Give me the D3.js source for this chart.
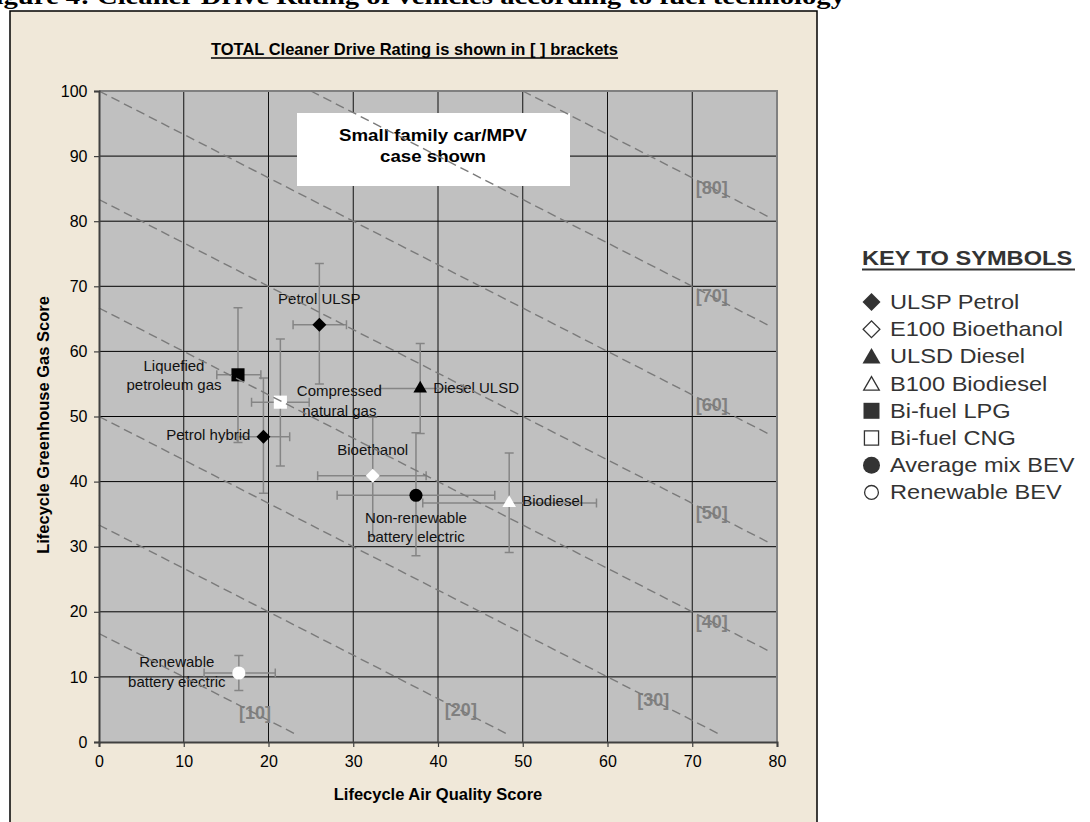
<!DOCTYPE html>
<html>
<head>
<meta charset="utf-8">
<script src="https://cdnjs.cloudflare.com/ajax/libs/d3/7.8.5/d3.min.js"></script>
<style>
  body { margin: 0; background: #fff; }
  svg { display: block; font-family: "Liberation Sans", Arial, sans-serif; }
</style>
</head>
<body>
<div id="chart"></div>
<script>
// Data
var fuels = ["Petrol ULSP", "Liquefied petroleum gas", "Compressed natural gas", "Petrol hybrid",
             "Diesel ULSD", "Bioethanol", "Non-renewable battery electric", "Biodiesel", "Renewable battery electric"];
var airQuality = [26.0, 16.4, 21.4, 19.4, 37.9, 32.3, 37.4, 48.4, 16.5];
var greenhouse = [64.1, 56.4, 52.2, 46.9, 54.3, 40.9, 37.9, 36.7, 10.6];
var airLow  = [22.9, 13.9, 18.0, 16.3, 33.2, 25.8, 28.1, 38.2, 12.4];
var airHigh = [29.2, 19.1, 24.8, 22.5, 43.0, 38.6, 46.7, 58.7, 20.8];
var ghgLow  = [55.0, 46.0, 42.4, 38.2, 47.4, 31.6, 28.6, 29.1, 7.9];
var ghgHigh = [73.5, 66.7, 61.9, 55.9, 61.2, 49.9, 47.5, 44.4, 13.3];

var keyNames = ["ULSP Petrol", "E100 Bioethanol", "ULSD Diesel", "B100 Biodiesel",
                "Bi-fuel LPG", "Bi-fuel CNG", "Average mix BEV", "Renewable BEV"];
var fuelKey = [0, 4, 5, 0, 2, 1, 6, 3, 7];

var ratings = [10, 20, 30, 40, 50, 60, 70, 80];
var ratingLabelX = [18.4, 42.7, 65.4, 72.3, 72.3, 72.3, 72.3, 72.3];

var xTicks = [0, 10, 20, 30, 40, 50, 60, 70, 80];
var yTicks = [0, 10, 20, 30, 40, 50, 60, 70, 80, 90, 100];

// shape + fill for each key
var keyStyle = [
  {shape: "diamond", filled: true}, {shape: "diamond", filled: false},
  {shape: "triangle", filled: true}, {shape: "triangle", filled: false},
  {shape: "square", filled: true}, {shape: "square", filled: false},
  {shape: "circle", filled: true}, {shape: "circle", filled: false}
];

// label layout around each point (pixel offsets)
var labelLayout = [
  {anchor: "middle", dx: 0,   dy: [-26]},
  {anchor: "middle", dx: -64, dy: [-9, 10]},
  {anchor: "middle", dx: 59,  dy: [-11, 9]},
  {anchor: "end",    dx: -13, dy: [-2]},
  {anchor: "start",  dx: 13,  dy: [-1]},
  {anchor: "middle", dx: 0,   dy: [-26]},
  {anchor: "middle", dx: 0,   dy: [23, 42]},
  {anchor: "start",  dx: 13,  dy: [-2]},
  {anchor: "middle", dx: -62, dy: [-11, 9]}
];
var labelLines = [["Petrol ULSP"], ["Liquefied", "petroleum gas"], ["Compressed", "natural gas"],
                  ["Petrol hybrid"], ["Diesel ULSD"], ["Bioethanol"],
                  ["Non-renewable", "battery electric"], ["Biodiesel"], ["Renewable", "battery electric"]];

var width = 1090, height = 822;
var plot = {left: 99, right: 777, top: 91, bottom: 742};

var svg = d3.select("#chart").append("svg")
    .attr("width", width)
    .attr("height", height);

var x = d3.scaleLinear().domain([0, 80]).range([plot.left, plot.right]);
var y = d3.scaleLinear().domain([0, 100]).range([plot.bottom, plot.top]);

// cropped caption above the frame
svg.append("text")
    .attr("x", -22).attr("y", 4)
    .attr("textLength", 867).attr("lengthAdjust", "spacingAndGlyphs")
    .style("font-family", "'Liberation Serif', 'Times New Roman', serif")
    .style("font-weight", "bold").style("font-size", "24px")
    .text("Figure 4: Cleaner Drive Rating of vehicles according to fuel technology");

// chart frame
svg.append("rect")
    .attr("x", 10).attr("y", 11)
    .attr("width", 807).attr("height", 830)
    .style("fill", "#F0E8D9").style("stroke", "#000").style("stroke-width", 1.5);

// plot area
svg.append("rect")
    .attr("x", plot.left).attr("y", plot.top)
    .attr("width", plot.right - plot.left).attr("height", plot.bottom - plot.top)
    .style("fill", "#C0C0C0");

// grid
svg.append("g").selectAll("line").data(yTicks.slice(1, -1)).enter().append("line")
    .attr("x1", plot.left).attr("x2", plot.right)
    .attr("y1", d => y(d)).attr("y2", d => y(d))
    .style("stroke", "#000").style("stroke-width", 1);
svg.append("g").selectAll("line").data(xTicks.slice(1, -1)).enter().append("line")
    .attr("y1", plot.top).attr("y2", plot.bottom)
    .attr("x1", d => x(d)).attr("x2", d => x(d))
    .style("stroke", "#111").style("stroke-width", 1);

// top / right border of the plot
svg.append("path")
    .attr("d", "M" + plot.left + "," + plot.top + "H" + plot.right + "V" + plot.bottom)
    .style("fill", "none").style("stroke", "#808080").style("stroke-width", 2);

// white note box
svg.append("rect")
    .attr("x", 297).attr("y", 113).attr("width", 273).attr("height", 73)
    .style("fill", "#fff");
svg.append("text")
    .attr("transform", "translate(433,141) scale(1.1,1)")
    .attr("text-anchor", "middle")
    .style("font-weight", "bold").style("font-size", "17px")
    .text("Small family car/MPV");
svg.append("text")
    .attr("transform", "translate(433,162) scale(1.1,1)")
    .attr("text-anchor", "middle")
    .style("font-weight", "bold").style("font-size", "17px")
    .text("case shown");

// symbols
var symbolType = {diamond: d3.symbolSquare, square: d3.symbolSquare, triangle: d3.symbolTriangle, circle: d3.symbolCircle};
function symbolPath(shape, size) {
  return d3.symbol().type(symbolType[shape]).size(size)();
}
var markerSize = {diamond: 98, square: 172, triangle: 80, circle: 135};

// error bars
var idx = d3.range(fuels.length);
var bars = svg.append("g").style("stroke", "#858585").style("stroke-width", 1.5).style("fill", "none");
var cap = 4.5;
bars.selectAll(".h").data(idx).enter().append("path")
    .attr("d", i => "M" + x(airLow[i]) + "," + y(greenhouse[i]) + "H" + x(airHigh[i]) +
      "M" + x(airLow[i]) + "," + (y(greenhouse[i]) - cap) + "v" + (2 * cap) +
      "M" + x(airHigh[i]) + "," + (y(greenhouse[i]) - cap) + "v" + (2 * cap));
bars.selectAll(".v").data(idx).enter().append("path")
    .attr("d", i => "M" + x(airQuality[i]) + "," + y(ghgLow[i]) + "V" + y(ghgHigh[i]) +
      "M" + (x(airQuality[i]) - cap) + "," + y(ghgLow[i]) + "h" + (2 * cap) +
      "M" + (x(airQuality[i]) - cap) + "," + y(ghgHigh[i]) + "h" + (2 * cap));

// markers
svg.append("g").selectAll("path").data(idx).enter().append("path")
    .attr("d", i => symbolPath(keyStyle[fuelKey[i]].shape, markerSize[keyStyle[fuelKey[i]].shape]))
    .attr("transform", i => "translate(" + x(airQuality[i]) + "," + y(greenhouse[i]) + ")" +
      (keyStyle[fuelKey[i]].shape === "diamond" ? " rotate(45)" : ""))
    .style("fill", i => keyStyle[fuelKey[i]].filled ? "#000" : "#fff");

// point labels
var labels = svg.append("g").style("font-size", "15px").style("fill", "#111");
idx.forEach(function (i) {
  var lay = labelLayout[i];
  labelLines[i].forEach(function (line, j) {
    labels.append("text")
        .attr("x", x(airQuality[i]) + lay.dx)
        .attr("y", y(greenhouse[i]) + lay.dy[j] + 5)
        .attr("text-anchor", lay.anchor)
        .text(line);
  });
});

// rating lines: 0.4 * air + 0.6 * ghg = rating
function ratingY(r, a) { return (5 * r - 2 * a) / 3; }
svg.append("g").selectAll("text").data(ratings).enter().append("text")
    .attr("x", (r, i) => x(ratingLabelX[i]))
    .attr("y", (r, i) => y(ratingY(r, ratingLabelX[i])) + 6)
    .attr("text-anchor", "middle")
    .style("font-weight", "bold").style("font-size", "18px").style("fill", "#808080")
    .text(r => "[" + r + "]");

var line = d3.line().x(d => x(d[0])).y(d => y(d[1]));
svg.append("g").selectAll("path").data(ratings).enter().append("path")
    .attr("d", function (r) {
      var a0 = Math.max(0, (5 * r - 300) / 2);
      var a1 = Math.min(79.3, (5 * r - 3) / 2);
      return line([[a0, ratingY(r, a0)], [a1, ratingY(r, a1)]]);
    })
    .style("fill", "none").style("stroke", "#7a7a7a").style("stroke-width", 1.4)
    .style("stroke-dasharray", "9,5");

// axes
var yAxis = d3.axisLeft(y).tickValues(yTicks).tickSize(5).tickPadding(6.5);
var gy = svg.append("g").attr("transform", "translate(" + plot.left + ",0)").call(yAxis);
var xAxis = d3.axisBottom(x).tickValues(xTicks).tickSize(5).tickPadding(9);
var gx = svg.append("g").attr("transform", "translate(0," + plot.bottom + ")").call(xAxis);
[gx, gy].forEach(function (g) {
  g.select(".domain").style("stroke", "#404040").style("stroke-width", 2);
  g.selectAll(".tick line").style("stroke", "#404040").style("stroke-width", 1.2);
  g.selectAll(".tick text").style("font-size", "16px").style("fill", "#000")
      .style("font-family", "'Liberation Sans', Arial, sans-serif");
});

// titles
var title = svg.append("text")
    .attr("x", 414.5).attr("y", 55)
    .attr("text-anchor", "middle")
    .style("font-weight", "bold").style("font-size", "16.5px")
    .text("TOTAL Cleaner Drive Rating is shown in [ ] brackets");
var tw = title.node().getComputedTextLength();
svg.append("line")
    .attr("x1", 414.5 - tw / 2).attr("x2", 414.5 + tw / 2)
    .attr("y1", 58).attr("y2", 58)
    .style("stroke", "#000").style("stroke-width", 1.5);

svg.append("text")
    .attr("x", 438).attr("y", 800)
    .attr("text-anchor", "middle")
    .style("font-weight", "bold").style("font-size", "16.5px")
    .text("Lifecycle Air Quality Score");

svg.append("text")
    .attr("transform", "translate(49,425) rotate(-90)")
    .attr("text-anchor", "middle")
    .style("font-weight", "bold").style("font-size", "16.5px")
    .text("Lifecycle Greenhouse Gas Score");

// key to symbols
var legend = svg.append("g").style("fill", "#333");
legend.append("text")
    .attr("transform", "translate(862,265) scale(1.18,1)")
    .style("font-weight", "bold").style("font-size", "20px")
    .text("KEY TO SYMBOLS");
legend.append("line")
    .attr("x1", 862).attr("x2", 1075).attr("y1", 269.5).attr("y2", 269.5)
    .style("stroke", "#333").style("stroke-width", 2);

var keySize = [
  {diamond: 162, square: 256, triangle: 140, circle: 227},
  {diamond: 140, square: 200, triangle: 105, circle: 150}
];
keyNames.forEach(function (name, i) {
  var cy = 302 + i * 27.2;
  var st = keyStyle[i];
  legend.append("path")
      .attr("d", symbolPath(st.shape, keySize[st.filled ? 0 : 1][st.shape]))
      .attr("transform", "translate(871.5," + (cy + (st.shape === "triangle" ? 2 : 0)) + ")" +
        (st.shape === "diamond" ? " rotate(45)" : ""))
      .style("fill", st.filled ? "#333" : "none")
      .style("stroke", st.filled ? "none" : "#333")
      .style("stroke-width", 1.3);
  legend.append("text")
      .attr("transform", "translate(890," + (cy + 7) + ") scale(1.18,1)")
      .style("font-size", "20px")
      .text(name);
});
</script>
</body>
</html>
